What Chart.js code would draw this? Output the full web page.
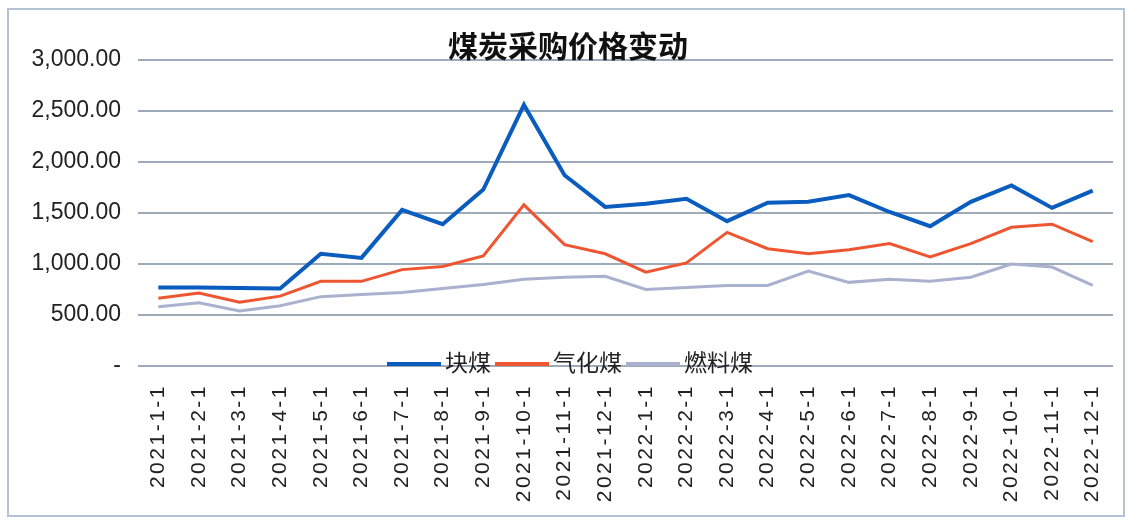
<!DOCTYPE html>
<html>
<head>
<meta charset="utf-8">
<script src="https://cdn.jsdelivr.net/npm/chart.js@4/dist/chart.umd.min.js"></script>
<style>
  html, body { margin: 0; padding: 0; background: #fff; }
  #wrap { width: 1135px; height: 522px; }
</style>
</head>
<body>
<div id="wrap"><canvas id="grafico" width="1135" height="522"></canvas></div>
<script>
// Dados
const meses = ["2021-1-1","2021-2-1","2021-3-1","2021-4-1","2021-5-1","2021-6-1","2021-7-1","2021-8-1",
  "2021-9-1","2021-10-1","2021-11-1","2021-12-1","2022-1-1","2022-2-1","2022-3-1","2022-4-1",
  "2022-5-1","2022-6-1","2022-7-1","2022-8-1","2022-9-1","2022-10-1","2022-11-1","2022-12-1"];
const kuaiMei = [770, 770, 765, 760, 1100, 1060, 1530, 1390, 1730, 2560, 1870, 1560,
  1590, 1640, 1420, 1600, 1610, 1675, 1510, 1370, 1610, 1770, 1550, 1720];
const qihuaMei = [665, 715, 625, 685, 830, 830, 945, 975, 1080, 1580, 1190, 1100,
  920, 1010, 1310, 1150, 1100, 1140, 1200, 1070, 1200, 1360, 1390, 1220];
const ranliaoMei = [580, 620, 540, 590, 680, 700, 720, 760, 800, 850, 870, 880,
  750, 770, 790, 790, 930, 820, 850, 830, 870, 1000, 970, 790];
const titulo = "煤炭采购价格变动";

const corGrade = '#9ea9ba';

// moldura, título e legenda desenhados por cima (estilo Excel)
const estiloExcel = {
  id: 'estiloExcel',
  beforeDraw(chart) {
    const ctx = chart.ctx;
    ctx.save();
    ctx.strokeStyle = '#b4c3d3';
    ctx.lineWidth = 2;
    ctx.strokeRect(8, 9, 1116, 507);
    ctx.restore();

    // espaçamento entre letras só nos rótulos do eixo x
    const xs = chart.scales.x;
    if (!xs._espacado) {
      const orig = xs.drawLabels.bind(xs);
      xs.drawLabels = function (area) {
        ctx.save();
        ctx.letterSpacing = '2.5px';
        orig(area);
        ctx.restore();
      };
      xs._espacado = true;
    }
  },
  afterDraw(chart) {
    const ctx = chart.ctx;
    ctx.save();
    // título
    ctx.font = 'bold 30px "Noto Sans CJK SC"';
    ctx.fillStyle = '#111';
    ctx.textAlign = 'center';
    ctx.textBaseline = 'middle';
    ctx.fillText(titulo, 568, 46);

    // legenda sobre a linha do zero
    const y0 = chart.scales.y.getPixelForValue(0) - 2;
    ctx.font = '23px "Noto Sans CJK SC"';
    ctx.textAlign = 'left';
    const linha = 54, gap = 4;
    const itens = chart.data.datasets.map(ds => ({ label: ds.label, cor: ds.borderColor, w: ctx.measureText(ds.label).width }));
    let total = 0;
    itens.forEach(it => total += linha + gap + it.w + gap);
    let x = 572 - total / 2;
    itens.forEach(it => {
      ctx.strokeStyle = it.cor;
      ctx.lineWidth = 4;
      ctx.beginPath();
      ctx.moveTo(x, y0);
      ctx.lineTo(x + linha, y0);
      ctx.stroke();
      x += linha + gap;
      ctx.fillStyle = '#222';
      ctx.fillText(it.label, x, y0 - 2);
      x += it.w + gap;
    });
    ctx.restore();
  }
};

const ctxGrafico = document.getElementById('grafico').getContext('2d');
new Chart(ctxGrafico, {
  type: 'line',
  data: {
    labels: meses,
    datasets: [
      { label: "块煤", data: kuaiMei, borderColor: "#0a5dbf", borderWidth: 4 },
      { label: "气化煤", data: qihuaMei, borderColor: "#ee5631", borderWidth: 3 },
      { label: "燃料煤", data: ranliaoMei, borderColor: "#a9b1cf", borderWidth: 3 }
    ]
  },
  options: {
    responsive: false,
    animation: false,
    elements: { point: { radius: 0 }, line: { tension: 0, fill: false } },
    layout: { padding: { top: 60, left: 10, right: 22, bottom: 0 } },
    plugins: {
      legend: { display: false },
      title: { display: false },
      tooltip: { enabled: false }
    },
    scales: {
      x: {
        offset: true,
        grid: { display: false, offset: true },
        border: { display: false },
        afterFit: s => { s.height = 156; },
        ticks: {
          autoSkip: false,
          minRotation: 90,
          maxRotation: 90,
          padding: 10,
          color: '#222',
          font: { family: 'Liberation Sans, Arial', size: 21 }
        }
      },
      y: {
        min: 0,
        max: 3000,
        afterFit: s => { s.width = 128; },
        afterBuildTicks: s => { s.ticks = [0, 500, 1000, 1500, 2000, 2500, 3000].map(v => ({ value: v })); },
        grid: { color: corGrade, lineWidth: 2, drawTicks: false },
        border: { display: false },
        ticks: {
          padding: 17,
          color: '#222',
          font: { family: 'Liberation Sans, Arial', size: 23 },
          callback: v => v === 0 ? '-' : v.toLocaleString('en-US', { minimumFractionDigits: 2, maximumFractionDigits: 2 })
        }
      }
    }
  },
  plugins: [estiloExcel]
});
</script>
</body>
</html>
